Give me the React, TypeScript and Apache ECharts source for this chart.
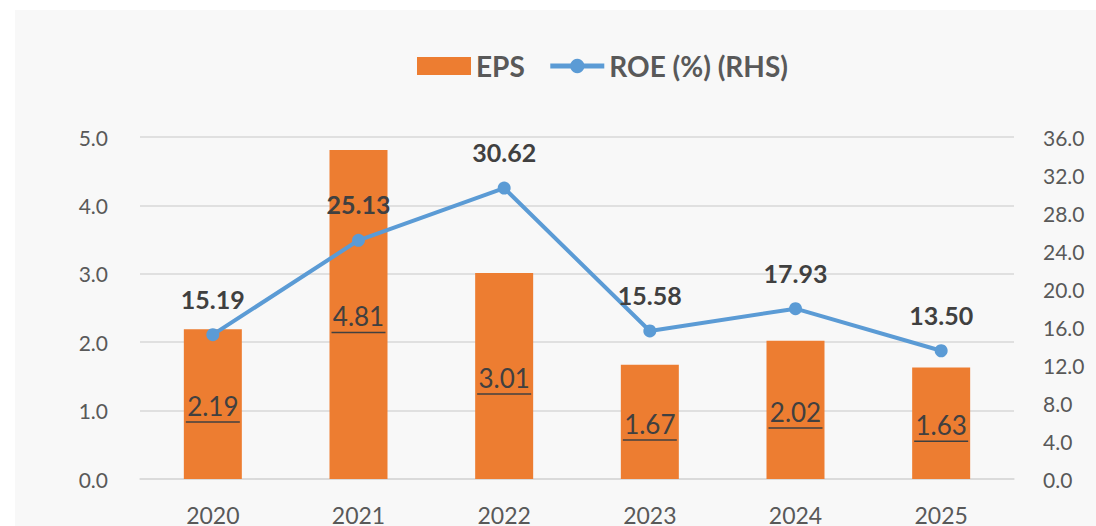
import React, { useEffect, useRef } from "react";
import * as echarts from "echarts";

const categories = ["2020", "2021", "2022", "2023", "2024", "2025"];
const epsValues = [2.19, 4.81, 3.01, 1.67, 2.02, 1.63];
const roeValues = [15.19, 25.13, 30.62, 15.58, 17.93, 13.5];

const FONT = "Lato, 'Open Sans', sans-serif";

export default function App() {
  const ref = useRef<HTMLDivElement>(null);
  useEffect(() => {
    if (!ref.current) return;
    const chart = echarts.init(ref.current, null, { renderer: "svg" });
    chart.setOption({
      animation: false,
      backgroundColor: "#f8f8f8",
      textStyle: { fontFamily: FONT },
      legend: {
        top: 37,
        left: 397,
        itemGap: 23,
        itemWidth: 54,
        itemHeight: 18,
        textStyle: { fontSize: 28, fontWeight: "bold", color: "#595959", fontFamily: FONT },
        data: [
          { name: "EPS", icon: "rect" },
          { name: "ROE (%) (RHS)", lineStyle: { width: 5 } },
        ],
      },
      grid: { left: 125, right: 82, top: 127, bottom: 47 },
      xAxis: {
        type: "category",
        data: categories,
        axisLine: { lineStyle: { color: "#d9d9d9", width: 1.5 } },
        axisTick: { show: false },
        axisLabel: { fontSize: 23, color: "#595959", margin: 24, fontFamily: FONT },
      },
      yAxis: [
        {
          type: "value",
          min: 0,
          max: 5,
          interval: 1,
          axisLabel: {
            fontSize: 21,
            color: "#595959",
            margin: 32,
            formatter: (v: number) => v.toFixed(1),
            fontFamily: FONT,
          },
          axisLine: { show: false },
          axisTick: { show: false },
          splitLine: { lineStyle: { color: "#d9d9d9", width: 1.5 } },
        },
        {
          type: "value",
          min: 0,
          max: 36,
          interval: 4,
          position: "right",
          axisLabel: {
            fontSize: 21,
            color: "#595959",
            margin: 29,
            formatter: (v: number) => v.toFixed(1),
            fontFamily: FONT,
          },
          axisLine: { show: false },
          axisTick: { show: false },
          splitLine: { show: false },
        },
      ],
      series: [
        {
          name: "EPS",
          type: "bar",
          data: epsValues,
          barWidth: 58,
          itemStyle: { color: "#ed7d31" },
          label: {
            show: true,
            position: "inside",
            offset: [0, 3],
            formatter: (p: any) => `{a|${p.value.toFixed(2)}}\n{u|}`,
            rich: {
              a: { fontSize: 26, color: "#404040", fontFamily: FONT, lineHeight: 30 },
              u: { width: 54, height: 1.5, backgroundColor: "#404040", lineHeight: 2 },
            },
          },
        },
        {
          name: "ROE (%) (RHS)",
          type: "line",
          yAxisIndex: 1,
          data: roeValues,
          symbol: "circle",
          symbolSize: 13,
          lineStyle: { color: "#5b9bd5", width: 4 },
          itemStyle: { color: "#5b9bd5" },
          label: {
            show: true,
            position: "top",
            distance: 17,
            formatter: (p: any) => p.value.toFixed(2),
            fontSize: 25,
            fontWeight: "bold",
            color: "#404040",
            fontFamily: FONT,
          },
        },
      ],
    });
    return () => chart.dispose();
  }, []);
  return (
    <div style={{ position: "fixed", left: 0, top: 0, width: 1096, height: 526, background: "#ffffff" }}>
      <div ref={ref} style={{ position: "absolute", left: 15, top: 10, width: 1081, height: 516 }} />
    </div>
  );
}
